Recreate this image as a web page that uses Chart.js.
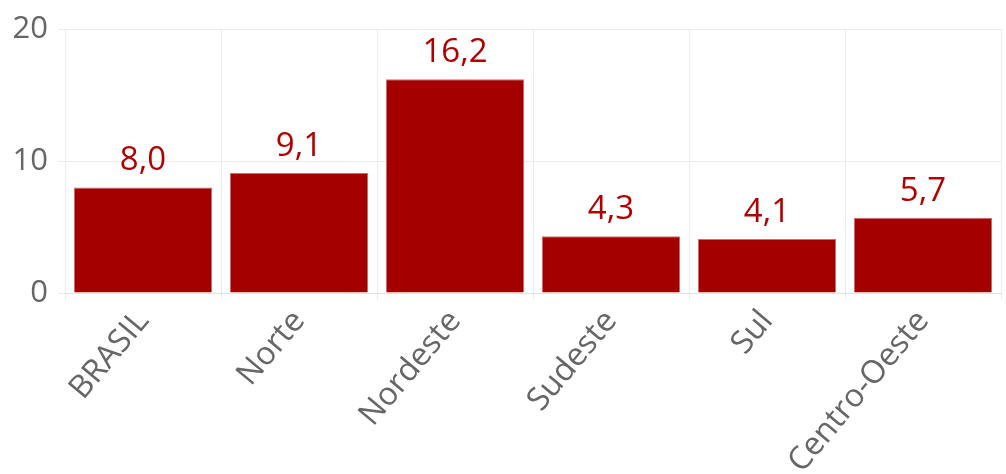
<!DOCTYPE html>
<html>
<head>
<meta charset="utf-8">
<script src="https://cdn.jsdelivr.net/npm/chart.js@4.4.1/dist/chart.umd.min.js"></script>
<style>
  html, body { margin: 0; padding: 0; background: #fff; }
  #wrap { width: 1006px; height: 474px; }
</style>
</head>
<body>
<div id="wrap"><canvas id="bar-chart"></canvas></div>
<script>
var regioes = ["BRASIL", "Norte", "Nordeste", "Sudeste", "Sul", "Centro-Oeste"];
var valores = [8.0, 9.1, 16.2, 4.3, 4.1, 5.7];
var yTicks = [0, 10, 20];

var corBarra = "#a50000";

// escreve o valor em cima de cada barra
var rotulos = {
  id: "rotulos",
  afterDatasetsDraw: function(chart) {
    var ctx = chart.ctx;
    var meta = chart.getDatasetMeta(0);
    ctx.save();
    ctx.font = "33px 'Open Sans'";
    ctx.fillStyle = "#b00000";
    ctx.textAlign = "center";
    ctx.textBaseline = "alphabetic";
    meta.data.forEach(function(bar, i) {
      var txt = valores[i].toFixed(1).replace(".", ",");
      ctx.fillText(txt, bar.x, bar.y - 17);
    });
    ctx.restore();
  }
};

new Chart(document.getElementById("bar-chart"), {
  type: "bar",
  data: {
    labels: regioes,
    datasets: [{
      data: valores,
      backgroundColor: corBarra,
      borderColor: "#c87070",
      borderWidth: 1,
      categoryPercentage: 1,
      barPercentage: 0.885
    }]
  },
  options: {
    responsive: true,
    maintainAspectRatio: false,
    animation: false,
    layout: { padding: { top: 29, right: 5, left: 0, bottom: 0 } },
    plugins: { legend: { display: false }, tooltip: { enabled: false } },
    scales: {
      x: {
        grid: { color: "#ececec", tickLength: 7, offset: true },
        border: { color: "#e0e0e0" },
        ticks: {
          font: { family: "'Open Sans'", size: 32 },
          color: "#666",
          minRotation: 50,
          maxRotation: 50,
          padding: 3
        },
        afterFit: function(s) { s.height = 181; }
      },
      y: {
        min: 0,
        max: 20,
        afterBuildTicks: function(s) { s.ticks = yTicks.map(function(v) { return { value: v }; }); },
        grid: { color: "#ececec", tickLength: 7 },
        border: { display: false },
        ticks: {
          font: { family: "'Open Sans'", size: 31 },
          color: "#666",
          padding: 10
        },
        afterFit: function(s) { s.width = 65; }
      }
    }
  },
  plugins: [rotulos]
});
</script>
</body>
</html>
